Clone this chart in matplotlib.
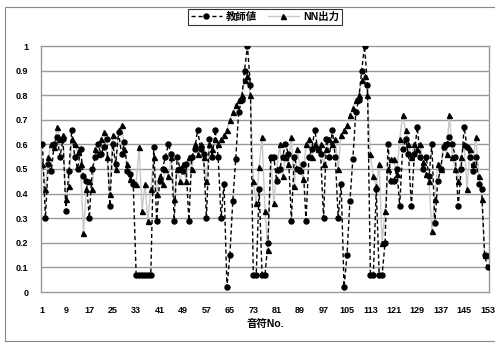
import matplotlib
matplotlib.use("Agg")
import matplotlib.pyplot as plt
from matplotlib.patches import Rectangle

plt.rcParams['font.family'] = ['Liberation Sans', 'Noto Sans CJK JP', 'DejaVu Sans']

note_no = list(range(1, 154))

teacher = [
    0.60, 0.30, 0.52, 0.49, 0.60, 0.63, 0.55, 0.62, 0.33, 0.49,
    0.66, 0.55, 0.50, 0.58, 0.47, 0.45, 0.30, 0.50, 0.55, 0.60,
    0.56, 0.59, 0.62, 0.35, 0.60, 0.52, 0.65, 0.56, 0.61, 0.49,
    0.48, 0.44, 0.07, 0.07, 0.07, 0.07, 0.07, 0.07, 0.59, 0.29,
    0.45, 0.50, 0.55, 0.60, 0.56, 0.29, 0.55, 0.50, 0.49, 0.52,
    0.29, 0.55, 0.58, 0.66, 0.58, 0.56, 0.30, 0.62, 0.55, 0.66,
    0.55, 0.30, 0.44, 0.02, 0.15, 0.37, 0.54, 0.73, 0.78, 0.90,
    1.00, 0.84, 0.07, 0.07, 0.42, 0.07, 0.07, 0.20, 0.55, 0.55,
    0.45, 0.50, 0.55, 0.60, 0.56, 0.29, 0.55, 0.50, 0.49, 0.52,
    0.29, 0.55, 0.58, 0.66, 0.58, 0.56, 0.30, 0.62, 0.55, 0.66,
    0.55, 0.30, 0.44, 0.02, 0.15, 0.37, 0.54, 0.73, 0.78, 0.90,
    1.00, 0.84, 0.07, 0.07, 0.42, 0.07, 0.07, 0.20, 0.60, 0.45,
    0.45, 0.50, 0.35, 0.58, 0.62, 0.56, 0.35, 0.56, 0.67, 0.55,
    0.50, 0.55, 0.47, 0.60, 0.28, 0.45, 0.50, 0.59, 0.60, 0.63,
    0.60, 0.55, 0.35, 0.50, 0.67, 0.59, 0.55, 0.49, 0.55, 0.44,
    0.42, 0.15, 0.10,
]

nn_output = [
    0.52, 0.42, 0.55, 0.60, 0.59, 0.67, 0.62, 0.64, 0.38, 0.43,
    0.62, 0.60, 0.57, 0.52, 0.24, 0.42, 0.45, 0.42, 0.58, 0.56,
    0.62, 0.65, 0.55, 0.40, 0.64, 0.50, 0.66, 0.68, 0.58, 0.52,
    0.46, 0.45, 0.44, 0.59, 0.33, 0.44, 0.29, 0.42, 0.55, 0.40,
    0.47, 0.44, 0.50, 0.47, 0.55, 0.38, 0.50, 0.45, 0.52, 0.45,
    0.55, 0.50, 0.60, 0.56, 0.60, 0.55, 0.45, 0.60, 0.58, 0.62,
    0.60, 0.62, 0.64, 0.66, 0.70, 0.73, 0.76, 0.78, 0.80, 0.86,
    0.88, 0.80, 0.45, 0.36, 0.51, 0.63, 0.33, 0.17, 0.55, 0.36,
    0.50, 0.60, 0.47, 0.55, 0.52, 0.63, 0.43, 0.58, 0.50, 0.46,
    0.60, 0.62, 0.55, 0.60, 0.58, 0.60, 0.52, 0.58, 0.62, 0.60,
    0.62, 0.50, 0.64, 0.66, 0.68, 0.72, 0.75, 0.78, 0.80, 0.86,
    0.88, 0.80, 0.56, 0.47, 0.43, 0.52, 0.20, 0.33, 0.50, 0.54,
    0.54, 0.48, 0.62, 0.72, 0.66, 0.60, 0.55, 0.60, 0.58, 0.60,
    0.53, 0.48, 0.45, 0.25, 0.38, 0.52, 0.50, 0.60, 0.56, 0.72,
    0.55, 0.50, 0.45, 0.55, 0.60, 0.42, 0.58, 0.52, 0.63, 0.47,
    0.38, 0.15, 0.15,
]

series_names = ["教師値", "NN出力"]
xtick_labels = [str(v) for v in range(1, 154, 8)]
y_ticks = [0, 0.1, 0.2, 0.3, 0.4, 0.5, 0.6, 0.7, 0.8, 0.9, 1]
y_tick_labels = ["0", "0.1", "0.2", "0.3", "0.4", "0.5", "0.6", "0.7", "0.8", "0.9", "1"]

W, H = 495, 343
fig = plt.figure(figsize=(W / 100, H / 100), dpi=100)
fig.patch.set_facecolor("white")
fig.patches.append(Rectangle((5 / W, 2 / H), 1.2, 1 - 9 / H, transform=fig.transFigure,
                             fill=False, edgecolor="#888888", linewidth=0.8))

ax = fig.add_axes([41 / W, 1 - 292 / H, (489 - 41) / W, (292 - 46) / H])
ax.set_xlim(0.5, len(note_no) + 0.5)
ax.set_ylim(0, 1)

for y in y_ticks[1:-1]:
    ax.axhline(y, color="#9a9a9a", linewidth=1.0, zorder=1)

ax.plot(note_no, nn_output, color="#c8c8c8", linewidth=1.0, marker="^", markersize=3.6,
        markerfacecolor="black", markeredgecolor="black", zorder=2, label=series_names[1])
ax.plot(note_no, teacher, color="black", linewidth=1.0, linestyle=(0, (3, 2)), marker="o",
        markersize=3.6, markerfacecolor="black", markeredgecolor="black", zorder=3,
        label=series_names[0])

for s in ax.spines.values():
    s.set_color("#999999")
    s.set_linestyle((0, (1, 1)))
    s.set_linewidth(1.0)

ax.set_xticks(list(range(1, 154, 8)))
ax.set_xticklabels(xtick_labels)
ax.set_yticks(y_ticks)
ax.set_yticklabels(y_tick_labels)
ax.tick_params(axis="x", length=0, labelsize=6.5, pad=10)
ax.tick_params(axis="y", length=0, labelsize=6.5, pad=9)
for lab in ax.get_xticklabels() + ax.get_yticklabels():
    lab.set_fontweight("bold")
ax.set_xlabel("音符No.", fontsize=7.5, fontweight="bold", labelpad=3)

handles, labels = ax.get_legend_handles_labels()
leg = fig.legend(handles[::-1], labels[::-1], loc="center", bbox_to_anchor=(265 / W, 1 - 17 / H),
                 ncol=2, frameon=True, fancybox=False, edgecolor="black",
                 handlelength=3.0, columnspacing=1.0, handletextpad=0.4, borderpad=0.3,
                 prop={"weight": "bold", "size": 7.5})
leg.get_frame().set_linewidth(0.8)

fig.savefig("out.png", dpi=100)
